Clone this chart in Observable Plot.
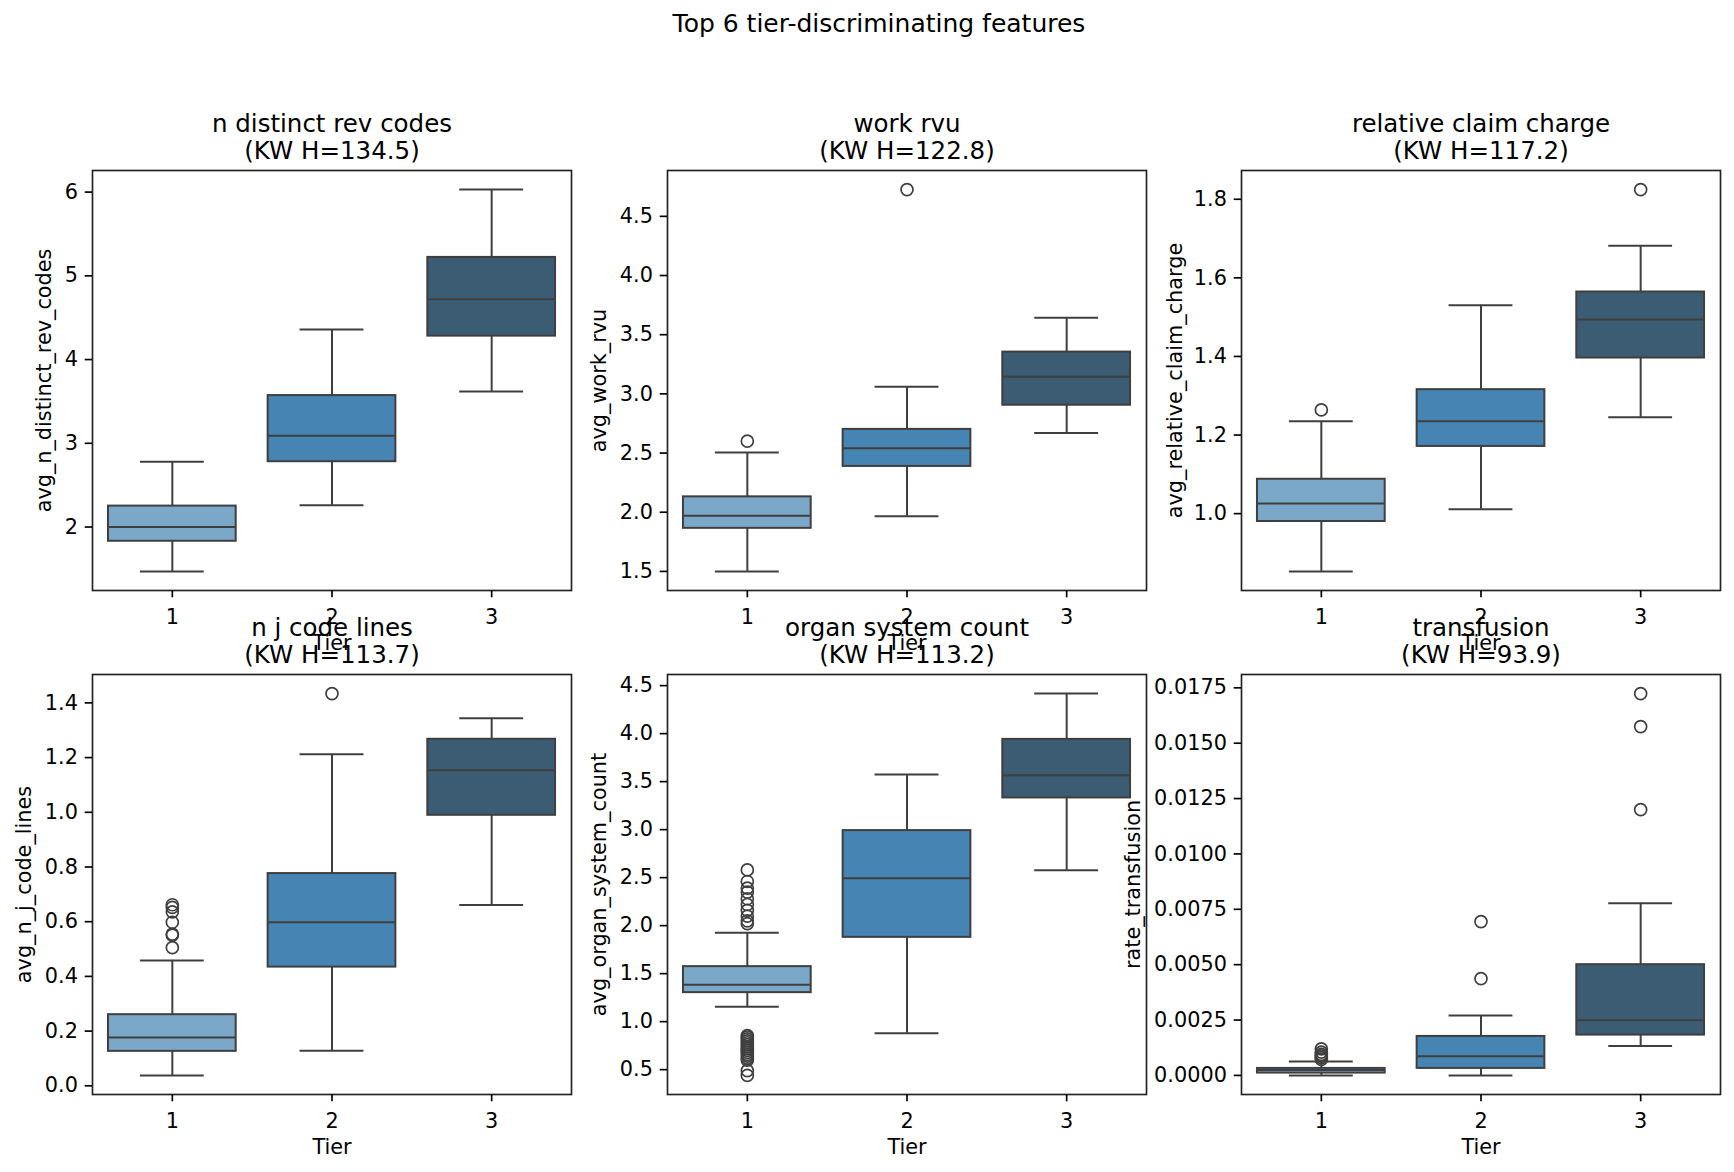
<!DOCTYPE html>
<html>
<head>
<meta charset="utf-8">
<script src="https://cdn.jsdelivr.net/npm/d3@7"></script>
<script src="https://cdn.jsdelivr.net/npm/@observablehq/plot@0.6"></script>
<style>
  body { margin: 0; background: #fff; }
  #fig { position: relative; width: 1734px; height: 1172px; overflow: hidden; background: #fff; font-family: "DejaVu Sans", sans-serif; }
  #suptitle { position: absolute; left: 0; top: 9px; width: 1758px; text-align: center; font-size: 25px; line-height: 29px; color: #000; }
  .panel { position: absolute; }
</style>
</head>
<body>
<div id="fig"><div id="suptitle">Top 6 tier-discriminating features</div></div>
<script>
// ---- data ----
const tiers = [1, 2, 3];
const features = ["n distinct rev codes", "work rvu", "relative claim charge", "n j code lines", "organ system count", "transfusion"];
const kwH = [134.5, 122.8, 117.2, 113.7, 113.2, 93.9];
const yLabels = ["avg_n_distinct_rev_codes", "avg_work_rvu", "avg_relative_claim_charge", "avg_n_j_code_lines", "avg_organ_system_count", "rate_transfusion"];

const whiskerLow  = [[1.47, 2.26, 3.62], [1.50, 1.966, 2.67], [0.853, 1.011, 1.245], [0.038, 0.128, 0.661], [1.156, 0.879, 2.576], [0.0, 0.0, 0.00133]];
const q1          = [[1.83, 2.78, 4.28], [1.864, 2.387, 2.904], [0.980, 1.171, 1.396], [0.126, 0.434, 0.989], [1.302, 1.878, 3.33], [0.000105, 0.000316, 0.00182]];
const median      = [[2.0, 3.09, 4.72], [1.97, 2.54, 3.144], [1.026, 1.235, 1.494], [0.177, 0.598, 1.154], [1.385, 2.493, 3.566], [0.00024, 0.00087, 0.00249]];
const q3          = [[2.25, 3.57, 5.22], [2.13, 2.70, 3.353], [1.0875, 1.3155, 1.564], [0.260, 0.776, 1.267], [1.573, 2.99, 3.94], [0.000316, 0.00176, 0.0050]];
const whiskerHigh = [[2.78, 4.36, 6.03], [2.505, 3.06, 3.644], [1.235, 1.530, 1.6815], [0.4585, 1.212, 1.344], [1.927, 3.573, 4.417], [0.00063, 0.0027, 0.00777]];
const outliers = [
  [[], [], []],
  [[2.60], [4.726], []],
  [[1.264], [], [1.8246]],
  [[0.505, 0.551, 0.555, 0.598, 0.636, 0.652, 0.662], [1.434], []],
  [[2.58, 2.46, 2.39, 2.35, 2.28, 2.22, 2.16, 2.10, 2.05, 2.02,
    0.854, 0.84, 0.82, 0.80, 0.78, 0.76, 0.74, 0.72, 0.70, 0.68, 0.66, 0.64, 0.62, 0.60, 0.49, 0.44], [], []],
  [[0.0012, 0.00105, 0.00095, 0.00088, 0.0008, 0.00072], [0.00437, 0.00694], [0.0120, 0.01575, 0.01724]]
];
const yTicks = [
  [2, 3, 4, 5, 6],
  [1.5, 2.0, 2.5, 3.0, 3.5, 4.0, 4.5],
  [1.0, 1.2, 1.4, 1.6, 1.8],
  [0.0, 0.2, 0.4, 0.6, 0.8, 1.0, 1.2, 1.4],
  [0.5, 1.0, 1.5, 2.0, 2.5, 3.0, 3.5, 4.0, 4.5],
  [0.0, 0.0025, 0.005, 0.0075, 0.01, 0.0125, 0.015, 0.0175]
];
const yTickFormats = ["d", ".1f", ".1f", ".1f", ".1f", ".4f"];

// ---- styles / layout ----
const tierColors = ["#7ba8c9", "#4684b4", "#3c5c74"];
const lineColor = "#3f3f3f";
const frameLefts = [92, 667, 1241];
const frameTops = [170, 674];
const frameW = 479, frameH = 420;
const ML = 130, MR = 10, MT = 80, MB = 80;
const yLabelDx = [-48, -68, -66, -68, -68, -108];

const fig = document.getElementById("fig");

features.forEach((name, i) => {
  const boxes = tiers.map((t, j) => ({
    tier: t, lo: whiskerLow[i][j], q1: q1[i][j], med: median[i][j], q3: q3[i][j], hi: whiskerHigh[i][j], color: tierColors[j]
  }));
  const fl = tiers.flatMap((t, j) => outliers[i][j].map(v => ({tier: t, value: v})));
  const all = boxes.flatMap(b => [b.lo, b.hi]).concat(fl.map(d => d.value));
  const mn = d3.min(all), mx = d3.max(all), pad = (mx - mn) * 0.05;
  const col = i % 3, row = Math.floor(i / 3);
  const fmt = d3.format(yTickFormats[i]);

  const plot = Plot.plot({
    width: frameW + ML + MR,
    height: frameH + MT + MB,
    marginLeft: ML, marginRight: MR, marginTop: MT, marginBottom: MB,
    style: {background: "transparent", overflow: "visible", fontFamily: "DejaVu Sans", fontSize: "20.8px", color: "#000", maxWidth: "none"},
    x: {domain: [0.5, 3.5]},
    y: {domain: [mn - pad, mx + pad]},
    color: {type: "identity"},
    marks: [
      Plot.ruleX(boxes, {x: "tier", y1: "q3", y2: "hi", stroke: lineColor, strokeWidth: 2}),
      Plot.ruleX(boxes, {x: "tier", y1: "lo", y2: "q1", stroke: lineColor, strokeWidth: 2}),
      Plot.ruleY(boxes, {y: "hi", x1: d => d.tier - 0.2, x2: d => d.tier + 0.2, stroke: lineColor, strokeWidth: 2}),
      Plot.ruleY(boxes, {y: "lo", x1: d => d.tier - 0.2, x2: d => d.tier + 0.2, stroke: lineColor, strokeWidth: 2}),
      Plot.rect(boxes, {x1: d => d.tier - 0.4, x2: d => d.tier + 0.4, y1: "q1", y2: "q3", fill: "color", stroke: lineColor, strokeWidth: 2}),
      Plot.ruleY(boxes, {y: "med", x1: d => d.tier - 0.4, x2: d => d.tier + 0.4, stroke: lineColor, strokeWidth: 2}),
      Plot.dot(fl, {x: "tier", y: "value", r: 6, fill: "none", stroke: lineColor, strokeWidth: 1.7}),
      Plot.frame({stroke: "#222", strokeWidth: 1.67}),
      Plot.axisX({ticks: tiers, tickFormat: d => String(d), tickSize: 7.3, tickPadding: 11, strokeWidth: 1.67, label: null, fontSize: 20.8}),
      Plot.axisY({ticks: yTicks[i], tickFormat: fmt, tickSize: 7.3, tickPadding: 7.3, strokeWidth: 1.67, label: null, fontSize: 20.8}),
      Plot.text([`${name}\n(KW H=${kwH[i].toFixed(1)})`], {frameAnchor: "top", lineAnchor: "bottom", dy: -12, fontSize: 24.5, lineHeight: 1.1, fill: "#000"}),
      Plot.text(["Tier"], {frameAnchor: "bottom", lineAnchor: "bottom", dy: 59, fontSize: 20.8, fill: "#000"}),
      Plot.text([yLabels[i]], {frameAnchor: "left", rotate: -90, dx: yLabelDx[i], textAnchor: "middle", lineAnchor: "middle", fontSize: 20.8, fill: "#000"})
    ]
  });
  plot.classList.add("panel");
  plot.style.position = "absolute";
  plot.style.left = (frameLefts[col] - ML) + "px";
  plot.style.top = (frameTops[row] - MT) + "px";
  fig.appendChild(plot);
});
</script>
</body>
</html>
